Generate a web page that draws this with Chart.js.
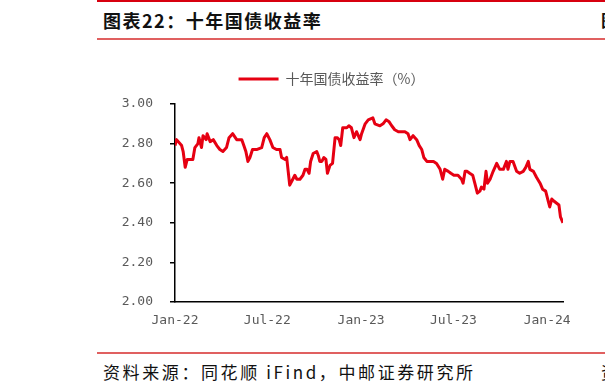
<!DOCTYPE html>
<html>
<head>
<meta charset="utf-8">
<script src="https://cdn.jsdelivr.net/npm/chart.js@4.4.1/dist/chart.umd.min.js"></script>
<style>
  html, body { margin:0; padding:0; background:#fff; }
  body { width:605px; height:392px; position:relative; overflow:hidden; }
  .rule { position:absolute; left:97px; width:520px; }
  #topline { top:0; height:2px; background:#d7000f; }
  #titleline { top:38px; height:2px; background:#e06060; }
  #footline { top:352px; height:2px; background:#e06060; }
  #title { position:absolute; left:103px; top:8px; font-family:"Noto Sans CJK SC"; font-weight:bold; font-size:18px; letter-spacing:1.5px; color:#111; white-space:nowrap; line-height:24px; }
  #foot { position:absolute; left:103px; top:360px; font-family:"Noto Sans CJK SC"; font-size:17px; letter-spacing:2.6px; color:#111; white-space:nowrap; line-height:24px; }
  .edge { position:absolute; left:601px; font-family:"Noto Sans CJK SC"; font-size:17px; color:#111; line-height:24px; }
  #wrap { position:absolute; left:100px; top:62px; width:500px; height:275px; }
</style>
</head>
<body>
<div class="rule" id="topline"></div>
<div id="title">图表22：十年国债收益率</div>
<div class="edge" style="top:8px;font-weight:bold;">图</div>
<div class="rule" id="titleline"></div>
<div id="wrap"><canvas id="c" width="500" height="275"></canvas></div>
<div class="rule" id="footline"></div>
<div id="foot">资料来源：同花顺 iFind，中邮证券研究所</div>
<div class="edge" style="top:360px;">资</div>
<script>
// Days elapsed since 2022-01-01 for each observation
const days = [0,3,13,16,20,24,35,39,45,47,52,55,61,63,69,75,82,88,94,101,106,113,121,131,135,139,143,147,152,160,170,175,180,186,192,199,206,209,216,219,222,225,231,235,239,245,251,255,259,263,266,271,278,281,284,288,292,296,299,304,309,314,318,322,325,329,337,341,346,351,356,363,366,373,379,388,392,402,408,414,420,425,431,438,445,451,457,461,467,474,479,484,488,494,500,507,513,520,525,529,536,541,547,555,562,565,569,573,578,584,588,593,598,601,606,610,613,618,624,631,637,644,650,653,657,663,670,676,683,688,693,696,703,709,716,721,727,732,735,739,743,748,753,756,761];
// 10-year government bond yield (%)
const yields = [2.79,2.82,2.79,2.76,2.68,2.72,2.72,2.78,2.80,2.83,2.78,2.84,2.82,2.85,2.81,2.82,2.79,2.77,2.76,2.78,2.83,2.85,2.82,2.82,2.79,2.76,2.71,2.73,2.77,2.77,2.78,2.83,2.85,2.82,2.78,2.77,2.77,2.73,2.72,2.73,2.66,2.59,2.62,2.64,2.62,2.62,2.64,2.67,2.67,2.65,2.71,2.75,2.76,2.74,2.71,2.71,2.73,2.72,2.65,2.69,2.70,2.83,2.83,2.82,2.79,2.88,2.88,2.89,2.88,2.83,2.86,2.82,2.85,2.90,2.92,2.93,2.90,2.89,2.90,2.92,2.91,2.89,2.87,2.86,2.86,2.86,2.85,2.82,2.84,2.82,2.79,2.77,2.73,2.71,2.71,2.71,2.70,2.67,2.62,2.67,2.66,2.65,2.64,2.64,2.62,2.60,2.66,2.66,2.65,2.64,2.60,2.55,2.56,2.58,2.57,2.66,2.60,2.62,2.66,2.70,2.67,2.67,2.71,2.67,2.71,2.71,2.66,2.65,2.66,2.68,2.71,2.67,2.66,2.63,2.60,2.57,2.56,2.51,2.48,2.52,2.51,2.50,2.49,2.43,2.40];
const tickDays = [0,181,365,546,730];
const tickLabels = ['Jan-22','Jul-22','Jan-23','Jul-23','Jan-24'];
const seriesName = '十年国债收益率（%）';
const yMin = 2.0, yMax = 3.0, yStep = 0.2;

const points = days.map((d,i)=>({x:d, y:yields[i]}));
const RED = '#e60012';
const GRAY = '#595959';

new Chart(document.getElementById('c'), {
  type:'line',
  data:{ datasets:[{ label:seriesName, data:points, borderColor:RED, backgroundColor:RED, borderWidth:3, pointRadius:0, tension:0, borderJoinStyle:'round' }] },
  options:{
    responsive:false, animation:false, devicePixelRatio:1,
    layout:{ padding:{ left:0, right:37, top:0, bottom:0 } },
    plugins:{
      tooltip:{enabled:false},
      legend:{
        display:true, position:'top',
        labels:{
          boxWidth:40, boxHeight:3, padding:10, color:GRAY,
          font:{ family:'"Noto Sans CJK SC"', size:14 },
          generateLabels(chart){
            return Chart.defaults.plugins.legend.labels.generateLabels(chart).map(it=>{ it.lineWidth=0; it.fillStyle=RED; it.strokeStyle=RED; return it; });
          }
        }
      }
    },
    scales:{
      x:{
        type:'linear', min:days[0], max:days[days.length-1],
        afterBuildTicks(scale){ scale.ticks = tickDays.map(v=>({value:v})); },
        afterFit(scale){ scale.height = 35; },
        ticks:{ autoSkip:false, maxRotation:0, padding:11, color:GRAY,
          font:{ family:'"DejaVu Sans Mono"', size:13 },
          callback(v){ const i = tickDays.indexOf(v); return i>=0 ? tickLabels[i] : ''; } },
        grid:{ drawOnChartArea:false, drawTicks:false },
        border:{ color:'#000', width:1.5 }
      },
      y:{
        min:yMin, max:yMax,
        afterFit(scale){ scale.width = 75; },
        ticks:{ stepSize:yStep, padding:17, color:GRAY,
          font:{ family:'"DejaVu Sans Mono"', size:13 },
          callback(v){ return Number(v).toFixed(2); } },
        grid:{ drawOnChartArea:false, drawTicks:true, tickLength:5, color:'#000', lineWidth:1.5 },
        border:{ color:'#000', width:1.5 }
      }
    }
  },
  plugins:[{
    id:'legendSpace',
    beforeInit(chart){
      const lg = chart.legend; const orig = lg.fit;
      lg.fit = function(){ orig.call(this); this.height = 42; };
    }
  }]
});
</script>
</body>
</html>
